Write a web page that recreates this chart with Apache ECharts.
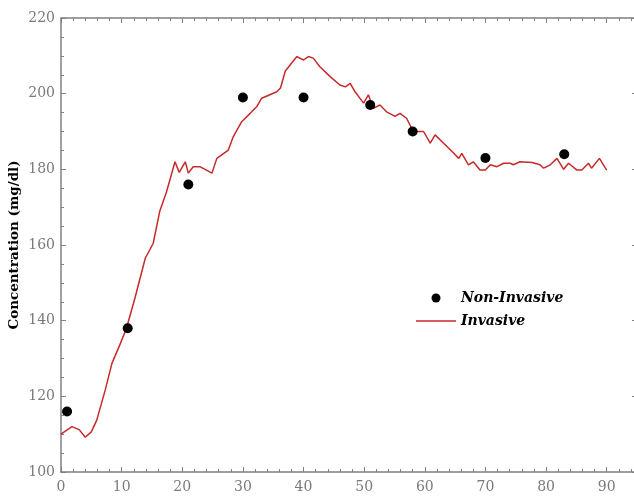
<!DOCTYPE html>
<html>
<head>
<meta charset="utf-8">
<script src="https://cdn.jsdelivr.net/npm/echarts@6/dist/echarts.min.js"></script>
<style>
  html, body { margin: 0; padding: 0; background: #fff; }
  #main { width: 634px; height: 497px; }
</style>
</head>
<body>
<div id="main"></div>
<script>
// non-invasive readings (dots)
var nonInvTime  = [1, 11, 21, 30, 40, 51, 58, 70, 83]
var nonInvValue = [116, 138, 176, 199, 199, 197, 190, 183, 184]

// invasive readings (red line)
var invTime = [0, 1.8, 3, 4, 5, 5.9, 7.3, 8.4, 9.7, 10.8, 12.2, 13.9, 15.2, 16.3, 17.4, 18.8,
  19.5, 20.5, 21, 21.8, 22.9, 24.9, 25.7, 27.6, 28.4, 29.8, 31.2, 32.3, 33.1, 35.6, 36.2, 37,
  38.9, 40, 40.8, 41.6, 42.7, 44.4, 46, 46.9, 47.7, 48.5, 49.9, 50.7, 51.5, 52.6, 53.7, 55.1,
  55.9, 57, 58.1, 59.8, 60.9, 61.7, 63.1, 64.5, 65.6, 66.1, 67.2, 68, 69.1, 70, 70.8, 71.9,
  73, 74.1, 74.6, 75.7, 77.7, 79, 79.6, 80.7, 81.8, 82.9, 83.7, 85.1, 85.9, 87, 87.5, 88.8, 90]
var invValue = [110, 112, 111.2, 109.2, 110.6, 113.7, 121.7, 128.7, 133.6, 138, 146, 156.5, 160.4, 169, 174, 182,
  179.2, 182, 179, 180.7, 180.7, 179, 182.9, 185.1, 188.6, 192.6, 194.8, 196.6, 198.8, 200.5, 201.5, 206,
  209.8, 208.9, 209.8, 209.4, 207.1, 204.5, 202.3, 201.8, 202.7, 200.5, 197.5, 199.7, 196.1, 197, 195.2, 194,
  194.8, 193.5, 190, 190, 186.9, 189.1, 186.9, 184.7, 182.9, 184.2, 181.2, 182, 179.8, 179.8, 181.2, 180.7,
  181.6, 181.6, 181.2, 182, 181.8, 181.2, 180.3, 181.2, 182.9, 180, 181.6, 179.8, 179.8, 181.6, 180.3, 182.9, 179.8]

var xTicks = [0, 10, 20, 30, 40, 50, 60, 70, 80, 90]
var yTicks = [100, 120, 140, 160, 180, 200, 220]

var labelFont = { fontFamily: 'DejaVu Serif', fontSize: 14, color: '#7a7a7a' }
var axisColor = '#808080'

function pairs(a, b) {
  return a.map(function (v, i) { return [v, b[i]] })
}

function xAx(pos, showLabels) {
  return {
    type: 'value', position: pos, min: 0, max: 95, interval: 10,
    axisLine: { show: true, onZero: false, lineStyle: { color: axisColor, width: 1.5 } },
    axisTick: { show: true, inside: true, length: 5, lineStyle: { color: axisColor } },
    minorTick: { show: true, splitNumber: 5, length: 3, lineStyle: { color: axisColor } },
    splitLine: { show: false },
    axisLabel: Object.assign({ show: showLabels, margin: 8, showMaxLabel: false,
      formatter: function (v) { return xTicks.indexOf(v) >= 0 ? v : '' } }, labelFont)
  }
}

function yAx(pos, showLabels) {
  return {
    type: 'value', position: pos, min: 100, max: 220, interval: 20,
    name: showLabels ? 'Concentration (mg/dl)' : '',
    nameLocation: 'middle', nameGap: 40, nameRotate: 90, nameMoveOverlap: false,
    nameTextStyle: { fontFamily: 'DejaVu Serif', fontWeight: 'bold', fontSize: 13.5, color: '#000' },
    axisLine: { show: true, onZero: false, lineStyle: { color: axisColor, width: 1.5 } },
    axisTick: { show: true, inside: true, length: 5, lineStyle: { color: axisColor } },
    minorTick: { show: true, splitNumber: 4, length: 3, lineStyle: { color: axisColor } },
    splitLine: { show: false },
    axisLabel: Object.assign({ show: showLabels, margin: 6,
      formatter: function (v) { return yTicks.indexOf(v) >= 0 ? v : '' } }, labelFont)
  }
}

var myChart = echarts.init(document.getElementById('main'), null, { renderer: 'canvas' })

var option = {
  animation: false,
  backgroundColor: '#fff',
  grid: { left: 61, top: 18, right: -3, bottom: 25, outerBoundsMode: 'none', containLabel: false },
  xAxis: [xAx('bottom', true), xAx('top', false)],
  yAxis: [yAx('left', true), yAx('right', false)],
  legend: {
    orient: 'vertical',
    left: 416, top: 291, padding: 0,
    itemWidth: 40, itemHeight: 9, itemGap: 9,
    textStyle: { fontFamily: 'DejaVu Serif', fontStyle: 'italic', fontWeight: 'bold', fontSize: 14, color: '#000' },
    data: [
      { name: 'Non-Invasive', icon: 'circle' },
      { name: 'Invasive', icon: 'path://M0,0 L40,0 L40,1.5 L0,1.5 Z' }
    ]
  },
  series: [
    {
      name: 'Invasive', type: 'line',
      data: pairs(invTime, invValue),
      symbol: 'none',
      lineStyle: { color: '#c62a2a', width: 1.5 },
      itemStyle: { color: '#c62a2a' },
      z: 2
    },
    {
      name: 'Non-Invasive', type: 'scatter',
      data: pairs(nonInvTime, nonInvValue),
      symbolSize: 10,
      itemStyle: { color: '#000', opacity: 1 },
      z: 3
    }
  ]
}

myChart.setOption(option)
</script>
</body>
</html>
